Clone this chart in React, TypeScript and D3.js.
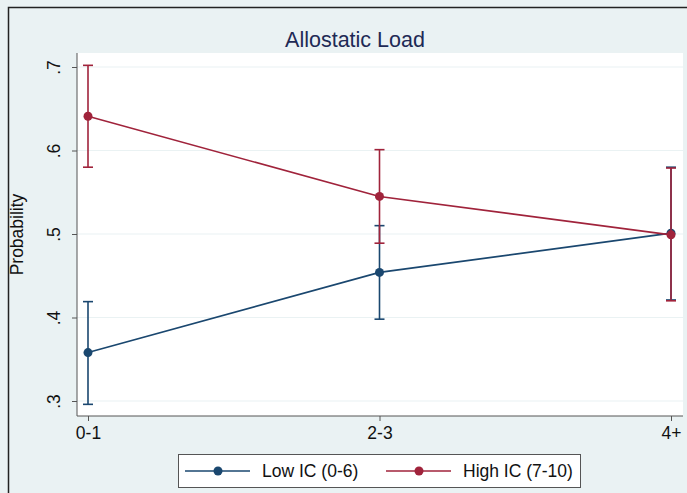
import { useEffect, useRef } from "react";
import * as d3 from "d3";

// chart data
const categories = ["0-1", "2-3", "4+"];
const lowEst = [0.358, 0.454, 0.501];
const lowLo = [0.296, 0.398, 0.421];
const lowHi = [0.419, 0.510, 0.580];
const highEst = [0.641, 0.545, 0.499];
const highLo = [0.580, 0.489, 0.420];
const highHi = [0.702, 0.601, 0.579];
const yTicks = [0.3, 0.4, 0.5, 0.6, 0.7];
const yTickLabels = [".3", ".4", ".5", ".6", ".7"];
const seriesNames = ["Low IC (0-6)", "High IC (7-10)"];

const W = 687;
const H = 493;
const FONT = "'Liberation Sans', Arial, sans-serif";
const BLUE = "#1a476f";
const RED = "#a0233b";
const BG = "#eaf2f3";

export default function App() {
  const ref = useRef<SVGSVGElement | null>(null);

  useEffect(() => {
    if (!ref.current) return;
    const svg = d3.select(ref.current);
    svg.selectAll("*").remove();

    // background + outer frame
    svg.append("rect").attr("width", W).attr("height", H).attr("fill", BG);
    svg.append("rect")
      .attr("x", 8.5).attr("y", 7.5)
      .attr("width", W).attr("height", H)
      .attr("fill", "none").attr("stroke", "#222").attr("stroke-width", 1.5);

    // plot region
    const left = 77, right = 683, top = 53, bottom = 416;
    svg.append("rect")
      .attr("x", left).attr("y", top)
      .attr("width", right - left).attr("height", bottom - top)
      .attr("fill", "#fff");

    const x = d3.scalePoint<string>().domain(categories).range([88, 671]);
    const y = d3.scaleLinear().domain([0.3, 0.7]).range([401, 67]);

    // gridlines
    svg.append("g").selectAll("line").data(yTicks).join("line")
      .attr("x1", left).attr("x2", right)
      .attr("y1", d => y(d)).attr("y2", d => y(d))
      .attr("stroke", BG).attr("stroke-width", 1.2);

    // y axis
    const yAxis = svg.append("g")
      .attr("transform", `translate(${left},0)`)
      .call(d3.axisLeft(y).tickValues(yTicks)
        .tickFormat((_, i) => yTickLabels[i]).tickSize(5).tickPadding(6).tickSizeOuter(0));
    yAxis.select(".domain").remove();
    yAxis.append("line")
      .attr("x1", 0).attr("x2", 0).attr("y1", top).attr("y2", bottom)
      .attr("stroke", "#555");
    yAxis.selectAll(".tick line").attr("stroke", "#555");
    yAxis.selectAll(".tick text")
      .attr("font-family", FONT).attr("font-size", 17.5).attr("fill", "#111")
      .attr("x", null).attr("dy", null)
      .attr("text-anchor", "middle")
      .attr("transform", "translate(-22,0) rotate(-90)")
      .attr("dominant-baseline", "middle");

    // x axis
    const xAxis = svg.append("g")
      .attr("transform", `translate(0,${bottom})`)
      .call(d3.axisBottom(x).tickSize(5).tickPadding(6).tickSizeOuter(0));
    xAxis.select(".domain").remove();
    xAxis.append("line")
      .attr("x1", left).attr("x2", right).attr("y1", 0).attr("y2", 0)
      .attr("stroke", "#555");
    xAxis.selectAll(".tick line").attr("stroke", "#555");
    xAxis.selectAll(".tick text")
      .attr("font-family", FONT).attr("font-size", 17.5).attr("fill", "#111");

    // titles
    svg.append("text")
      .attr("x", 355).attr("y", 47)
      .attr("text-anchor", "middle")
      .attr("font-family", FONT).attr("font-size", 21.5).attr("fill", "#1e2a55")
      .text("Allostatic Load");
    svg.append("text")
      .attr("transform", `translate(23,${(top + bottom) / 2}) rotate(-90)`)
      .attr("text-anchor", "middle")
      .attr("font-family", FONT).attr("font-size", 17.5).attr("fill", "#111")
      .text("Probability");

    // series
    const series = [
      { est: lowEst, lo: lowLo, hi: lowHi, color: BLUE },
      { est: highEst, lo: highLo, hi: highHi, color: RED },
    ];
    const line = d3.line<number>()
      .x((_, i) => x(categories[i]) as number)
      .y(d => y(d));

    series.forEach(s => {
      const g = svg.append("g");
      const bars = g.selectAll("g.ci").data(categories).join("g").attr("class", "ci");
      bars.append("line")
        .attr("x1", d => x(d) as number).attr("x2", d => x(d) as number)
        .attr("y1", (_, i) => y(s.lo[i])).attr("y2", (_, i) => y(s.hi[i]))
        .attr("stroke", s.color).attr("stroke-width", 1.6);
      [s.lo, s.hi].forEach(arr => {
        bars.append("line")
          .attr("x1", d => (x(d) as number) - 5).attr("x2", d => (x(d) as number) + 5)
          .attr("y1", (_, i) => y(arr[i])).attr("y2", (_, i) => y(arr[i]))
          .attr("stroke", s.color).attr("stroke-width", 1.6);
      });
      g.append("path").datum(s.est)
        .attr("fill", "none").attr("stroke", s.color).attr("stroke-width", 1.6)
        .attr("d", line);
      g.selectAll("circle").data(s.est).join("circle")
        .attr("cx", (_, i) => x(categories[i]) as number)
        .attr("cy", d => y(d)).attr("r", 4.5)
        .attr("fill", s.color);
    });

    // legend
    const lg = svg.append("g");
    lg.append("rect")
      .attr("x", 178.5).attr("y", 454.5).attr("width", 402).attr("height", 33)
      .attr("fill", "#fff").attr("stroke", "#555");
    const items = [
      { x0: 185, color: BLUE, label: seriesNames[0] },
      { x0: 386, color: RED, label: seriesNames[1] },
    ];
    items.forEach(it => {
      lg.append("line")
        .attr("x1", it.x0).attr("x2", it.x0 + 65).attr("y1", 471).attr("y2", 471)
        .attr("stroke", it.color).attr("stroke-width", 1.6);
      lg.append("circle")
        .attr("cx", it.x0 + 33).attr("cy", 471).attr("r", 4.5).attr("fill", it.color);
      lg.append("text")
        .attr("x", it.x0 + 77).attr("y", 477)
        .attr("font-family", FONT).attr("font-size", 17.5).attr("fill", "#111")
        .text(it.label);
    });
  }, []);

  return (
    <svg
      ref={ref}
      width={W}
      height={H}
      style={{ position: "absolute", left: 0, top: 0 }}
    />
  );
}
